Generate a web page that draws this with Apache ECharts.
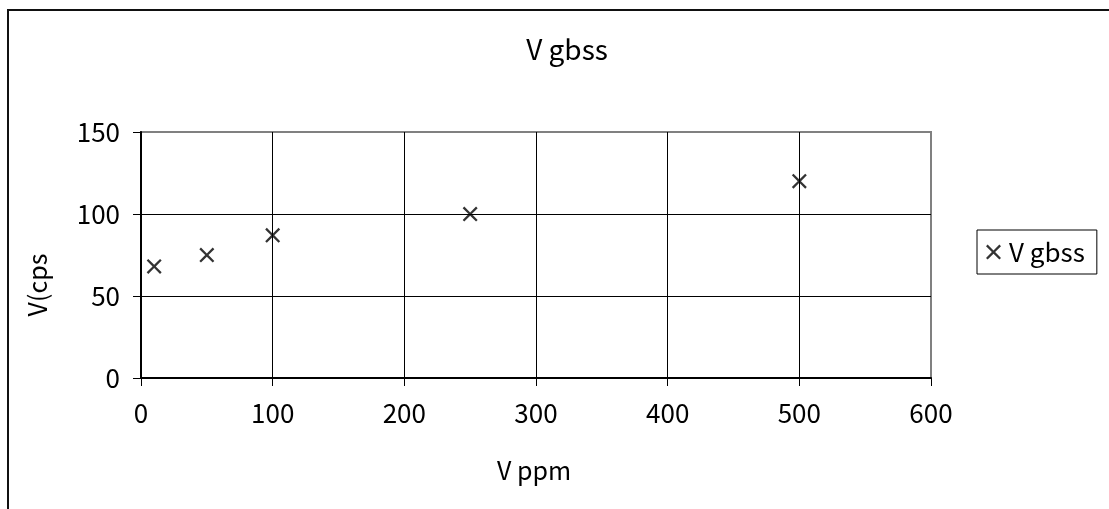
<!DOCTYPE html>
<html>
<head>
<meta charset="utf-8">
<script src="https://cdn.jsdelivr.net/npm/echarts@6/dist/echarts.min.js"></script>
<style>
html,body{margin:0;padding:0;background:#fff;}
#c{width:1109px;height:509px;}
</style>
</head>
<body>
<div id="c"></div>
<script>
var seriesName = 'V gbss';
var xValues = [10, 50, 100, 250, 500];
var yValues = [68, 75, 87, 100, 120];
var chartTitle = 'V gbss';
var xAxisTitle = 'V ppm';
var yAxisTitle = 'V(cps';

var FONT = '"Noto Sans CJK JP", "Noto Sans", sans-serif';
var CROSS = 'path://M0,1.3L1.3,0L6,4.7L10.7,0L12,1.3L7.3,6L12,10.7L10.7,12L6,7.3L1.3,12L0,10.7L4.7,6Z';

var points = xValues.map(function (x, i) { return [x, yValues[i]]; });

var chart = echarts.init(document.getElementById('c'), null, {renderer: 'canvas'});
chart.setOption({
  animation: false,
  backgroundColor: '#fff',
  title: {
    text: chartTitle,
    left: 562, top: 30, textAlign: 'center',
    textStyle: {fontFamily: FONT, fontSize: 28, fontWeight: 'normal', color: '#000'}
  },
  legend: {
    data: [{name: seriesName, icon: CROSS}],
    left: 977, top: 230,
    orient: 'vertical',
    padding: [9, 12, 9, 9],
    itemWidth: 15, itemHeight: 15, itemGap: 6,
    borderColor: '#000', borderWidth: 1,
    textStyle: {fontFamily: FONT, fontSize: 26, color: '#000', padding: [0, 0, 0, 3]}
  },
  grid: {
    left: 141, top: 132, right: 178, bottom: 131,
    show: true, borderColor: '#808080', borderWidth: 2, backgroundColor: 'transparent'
  },
  xAxis: {
    type: 'value', min: 0, max: 600, interval: 100,
    axisLine: {show: true, onZero: false, lineStyle: {color: '#000', width: 2}},
    axisTick: {show: true, inside: false, length: 8, lineStyle: {color: '#000', width: 1}},
    axisLabel: {margin: 22, fontFamily: FONT, fontSize: 26, color: '#000'},
    splitLine: {show: true, showMinLine: false, showMaxLine: false, lineStyle: {color: '#000', width: 1}}
  },
  yAxis: {
    type: 'value', min: 0, max: 150, interval: 50,
    axisLine: {show: true, onZero: false, lineStyle: {color: '#000', width: 2}},
    axisTick: {show: true, inside: false, length: 8, lineStyle: {color: '#000', width: 1}},
    axisLabel: {margin: 21, fontFamily: FONT, fontSize: 26, color: '#000'},
    splitLine: {show: true, showMinLine: false, showMaxLine: false, lineStyle: {color: '#000', width: 1}}
  },
  graphic: [
    {type: 'rect', shape: {x: 8, y: 10, width: 1300, height: 700}, style: {fill: 'none', stroke: '#111', lineWidth: 2}, silent: true, z: 100},
    {type: 'text', x: 534, y: 470, style: {text: xAxisTitle, font: '25px ' + FONT, fill: '#000', align: 'center', verticalAlign: 'middle'}},
    {type: 'text', x: 37, y: 285, rotation: Math.PI / 2, style: {text: yAxisTitle, font: '25px ' + FONT, fill: '#000', align: 'center', verticalAlign: 'middle'}}
  ],
  series: [{
    name: seriesName,
    type: 'scatter',
    data: points,
    symbol: CROSS,
    symbolSize: 15,
    itemStyle: {color: '#000'}
  }]
});
</script>
</body>
</html>
